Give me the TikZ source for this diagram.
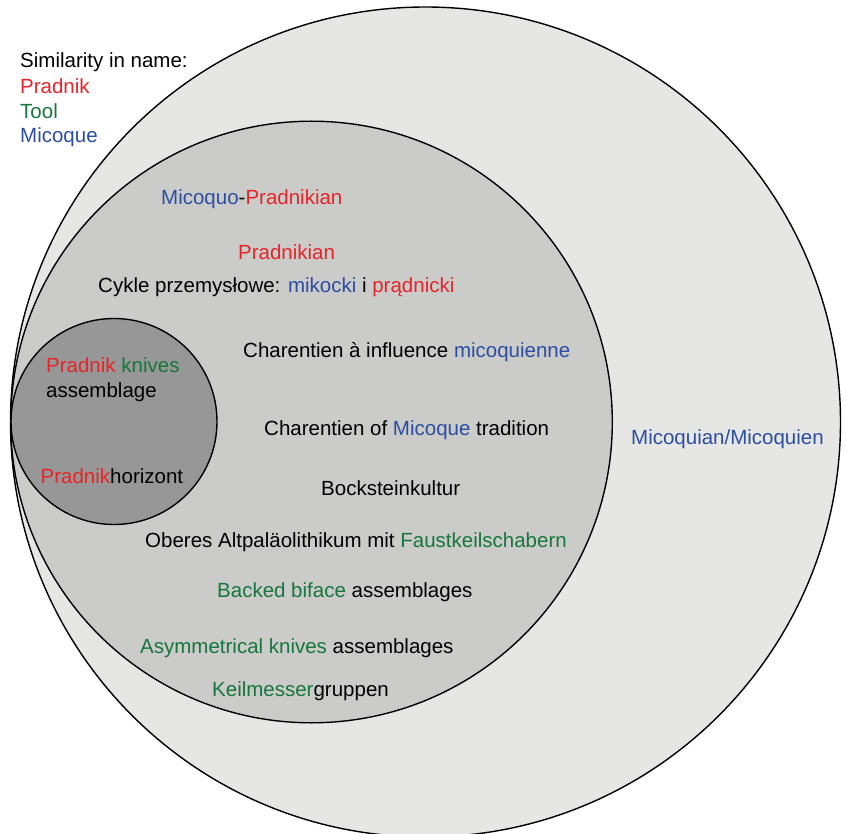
\documentclass[tikz,border=0pt]{standalone}
\usepackage{fontspec}
\setmainfont{Liberation Sans}
\definecolor{cred}{RGB}{232,36,40}
\definecolor{cgreen}{RGB}{22,118,62}
\definecolor{cblue}{RGB}{44,78,160}
\definecolor{fillA}{RGB}{230,230,229}
\definecolor{fillB}{RGB}{203,203,202}
\definecolor{fillC}{RGB}{150,151,150}
\tikzset{
  ring/.style={draw=black, line width=1.4pt},
  lbl/.style={anchor=base west, inner sep=0pt, font=\fontsize{20.5}{24}\selectfont},
}
\newcommand{\R}[1]{\textcolor{cred}{#1}}
\newcommand{\G}[1]{\textcolor{cgreen}{#1}}
\newcommand{\B}[1]{\textcolor{cblue}{#1}}
\begin{document}
\begin{tikzpicture}[x=1pt,y=-1pt]
\useasboundingbox[fill=white] (0,0) rectangle (846,834);
\draw[ring, fill=fillA] (425.5,422) circle[radius=415];
\draw[ring, fill=fillB] (311.5,422) circle[radius=300.8];
\draw[ring, fill=fillC] (114,421.5) circle[radius=103];

\node[lbl] (sim) at (20,68) {Similarity in name:};
\node[lbl] (kp) at (20,94) {\R{Pradnik}};
\node[lbl] (kt) at (20,118.5) {\G{Tool}};
\node[lbl] (km) at (20,143) {\B{Micoque}};

\node[lbl] (mp) at (161,205) {\B{Micoquo}-\R{Pradnikian}};
\node[lbl] (pk) at (238,260) {\R{Pradnikian}};
\node[lbl] (cy) at (98,293) {Cykle przemysłowe: \B{mikocki} i \R{prądnicki}};
\node[lbl] (ci) at (243,357) {Charentien à influence \B{micoquienne}};
\node[lbl] (ct) at (264,435) {Charentien of \B{Micoque} tradition};
\node[lbl] (mm) at (631,444) {\B{Micoquian/Micoquien}};
\node[lbl] (bk) at (321,495) {Bocksteinkultur};
\node[lbl] (oa) at (145,547) {Oberes Altpaläolithikum mit \G{Faustkeilschabern}};
\node[lbl] (bb) at (217,597) {\G{Backed biface} assemblages};
\node[lbl] (ak) at (140,653) {\G{Asymmetrical knives} assemblages};
\node[lbl] (kg) at (212,696) {\G{Keilmesser}gruppen};

\node[lbl] (pkn) at (46,372) {\R{Pradnik} \G{knives}};
\node[lbl] (asb) at (46,397) {assemblage};
\node[lbl] (phz) at (40.5,483) {\R{Pradnik}horizont};
\end{tikzpicture}
\end{document}
